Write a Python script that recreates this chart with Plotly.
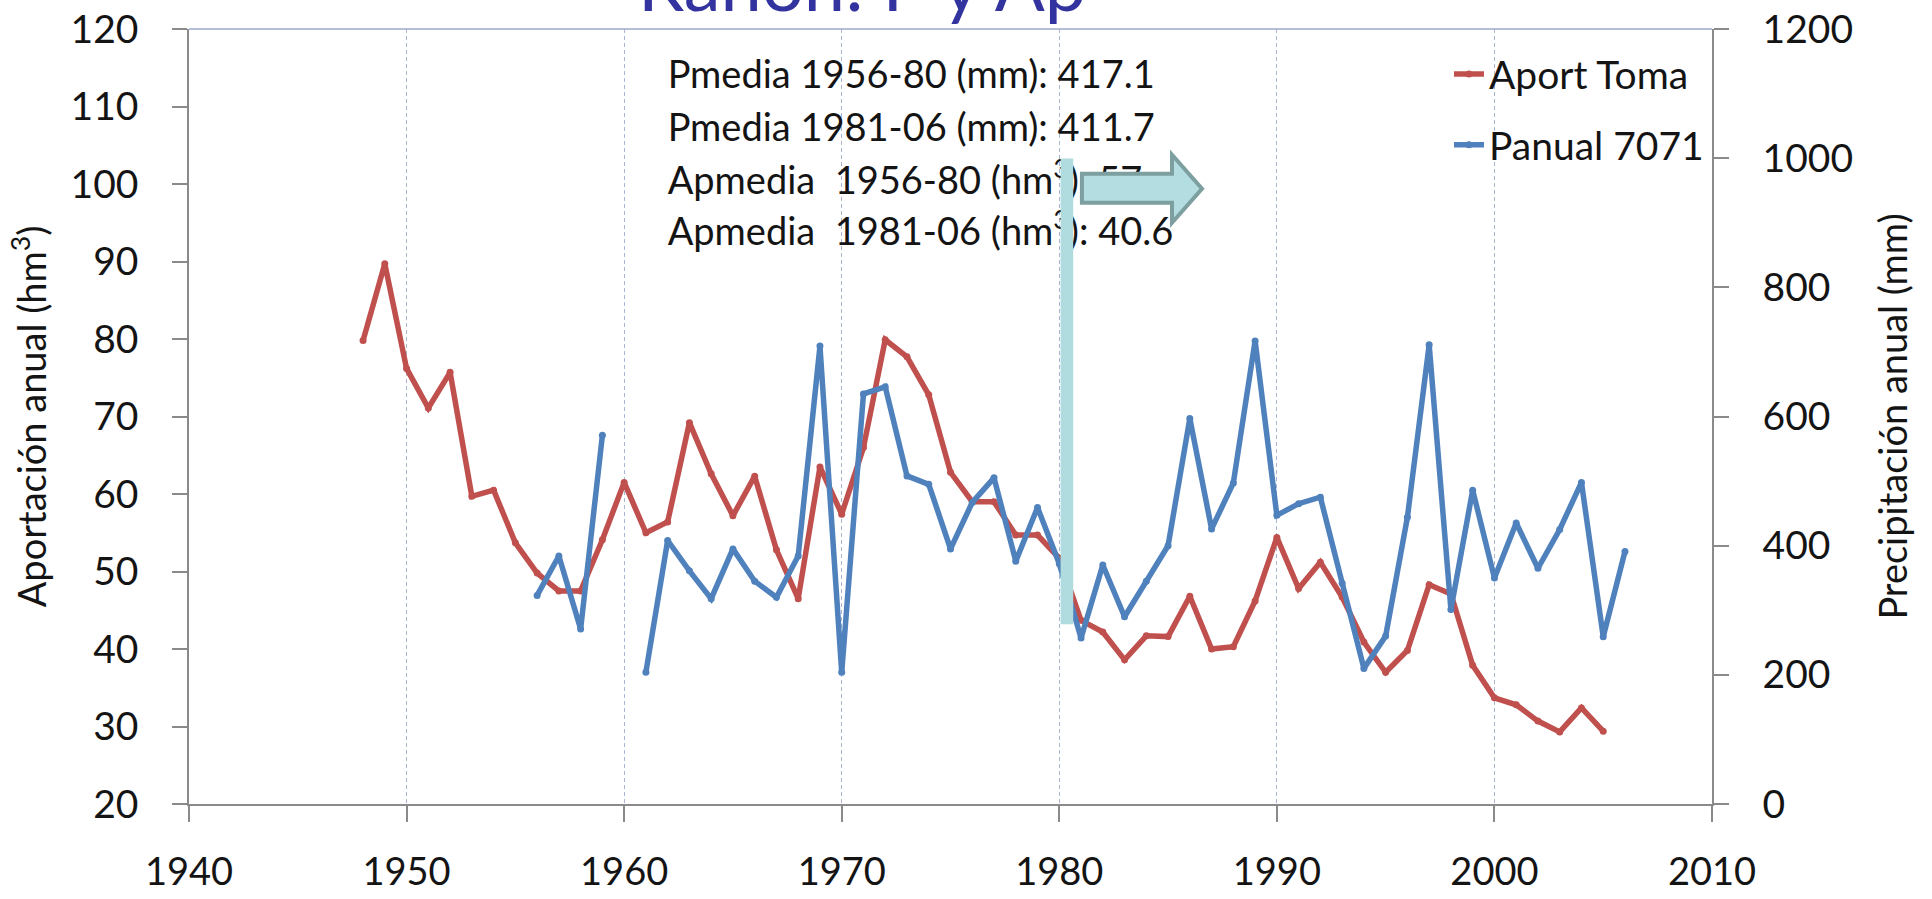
import plotly.graph_objects as go

# ---------------- data ----------------
years_toma = list(range(1948, 2006))
aport_toma = [79.8, 89.7, 76.2, 71.1, 75.7, 59.7, 60.5, 53.7, 49.8, 47.5,
              47.5, 54.1, 61.5, 55.0, 56.4, 69.2, 62.6, 57.2, 62.3, 52.8,
              46.5, 63.5, 57.4, 66.0, 79.9, 77.7, 72.8, 62.8, 59.0, 59.0,
              54.7, 54.7, 51.7, 43.7, 42.2, 38.6, 41.7, 41.6, 46.8, 40.0,
              40.3, 46.2, 54.4, 47.8, 51.2, 46.7, 40.9, 37.0, 39.8, 48.3,
              47.1, 37.9, 33.7, 32.8, 30.7, 29.3, 32.4, 29.4]

years_panual = list(range(1956, 2007))
panual_7071 = [323, 384, 271, 571, None, 204, 408, 361, 318, 395,
               345, 320, 384, 709, 204, 635, 646, 508, 495, 395,
               467, 505, 376, 459, 372, 257, 370, 290, 345, 400,
               597, 426, 497, 717, 447, 465, 475, 342, 210, 260,
               444, 711, 301, 486, 350, 435, 365, 425, 498, 259, 391]

series_names = ["Aport Toma", "Panual 7071"]
stat_lines = ["Pmedia 1956-80 (mm): 417.1",
              "Pmedia 1981-06 (mm): 411.7",
              "Apmedia  1956-80 (hm<sup>3</sup>): 57",
              "Apmedia  1981-06 (hm<sup>3</sup>): 40.6"]
title_text = "Rañón: P y Ap"
y_title = "Aportación anual (hm<sup>3</sup>)"
y2_title = "Precipitación anual (mm)"

# ---------------- style ----------------
FONT = "Lato, 'Open Sans', sans-serif"
RED = "#C0504D"
BLUE = "#4F81BD"
AXIS = "#8a8a8a"
GRID = "#aab6cf"
TXT = "#141414"

fig = go.Figure()

# statistics text block (drawn as a trace so the bar/arrow shapes can cover it)
fig.add_trace(go.Scatter(
    x=[1962.0] * 4, y=[113.6, 106.8, 100.0, 93.3],
    mode="text", text=stat_lines, textposition="middle right",
    textfont=dict(family=FONT, size=38, color=TXT),
    showlegend=False, hoverinfo="skip", cliponaxis=False))

fig.add_trace(go.Scatter(
    x=years_toma, y=aport_toma, name=series_names[0],
    mode="lines+markers", line=dict(color=RED, width=5.5),
    marker=dict(size=7, color=RED), legendgroup="a"))

fig.add_trace(go.Scatter(
    x=years_panual, y=panual_7071, name=series_names[1], yaxis="y2",
    mode="lines+markers", line=dict(color=BLUE, width=5.5),
    marker=dict(size=7, color=BLUE), legendgroup="b", connectgaps=False))

tick_common = dict(showline=True, linecolor=AXIS, linewidth=1.5,
                   ticks="outside", tickcolor=AXIS, tickwidth=1.5, automargin=False,
                   zeroline=False)
tfont = dict(family=FONT, size=39, color=TXT)

fig.update_layout(
    width=1932, height=899,
    margin=dict(l=189, r=220, t=29, b=95, autoexpand=False),
    paper_bgcolor="white", plot_bgcolor="white",
    font=dict(family=FONT, color=TXT),
    xaxis=dict(range=[1940, 2010], tick0=1940, dtick=10, showgrid=True,
               gridcolor=GRID, gridwidth=1, griddash="4px,3px",
               ticklen=16, ticklabelstandoff=18,
               tickfont=dict(family=FONT, size=38, color=TXT), **tick_common),
    yaxis=dict(range=[20, 120], tick0=20, dtick=10, showgrid=False,
               ticklen=15, ticklabelstandoff=26, tickfont=tfont,
               title=dict(text=y_title, font=dict(family=FONT, size=38, color=TXT), standoff=12),
               **tick_common),
    yaxis2=dict(range=[0, 1200], tick0=0, dtick=200, showgrid=False,
                overlaying="y", side="right", ticklen=15, ticklabelstandoff=26, tickfont=tfont,
                title=dict(text=y2_title, font=dict(family=FONT, size=38, color=TXT), standoff=28),
                **tick_common),
    legend=dict(x=0.8273, y=0.983, xanchor="left", yanchor="top",
                font=dict(family=FONT, size=39, color=TXT),
                bgcolor="rgba(0,0,0,0)", traceorder="grouped", tracegroupgap=17),
    showlegend=True,
)

# chart title, partially cut by the top edge of the page
fig.add_annotation(text=title_text, xref="paper", yref="paper", x=0.442, y=1.0,
                   xanchor="center", yanchor="bottom", showarrow=False,
                   font=dict(family=FONT, size=74, color="#33339f"))

# top border of plot area
fig.add_shape(type="line", xref="paper", yref="paper", x0=0, x1=1, y0=1, y1=1,
              line=dict(color="#9aaacb", width=1.5))

# vertical marker bar at 1980
fig.add_shape(type="rect", xref="x", yref="y", x0=1980.06, x1=1980.64, y0=43.2, y1=103.3,
              fillcolor="#b0dce0", line=dict(width=0), layer="above")

# arrow
arrow = ("M 1981.04,101.33 L 1985.18,101.33 L 1985.18,103.78 L 1986.56,99.39 "
         "L 1985.18,95.0 L 1985.18,97.59 L 1981.04,97.59 Z")
fig.add_shape(type="path", xref="x", yref="y", path=arrow,
              fillcolor="#b3dde1", line=dict(color="#7d9fa0", width=4), layer="above")

fig.write_html("out.html", config={"displayModeBar": False},
               post_script="document.body.style.margin='0';")
